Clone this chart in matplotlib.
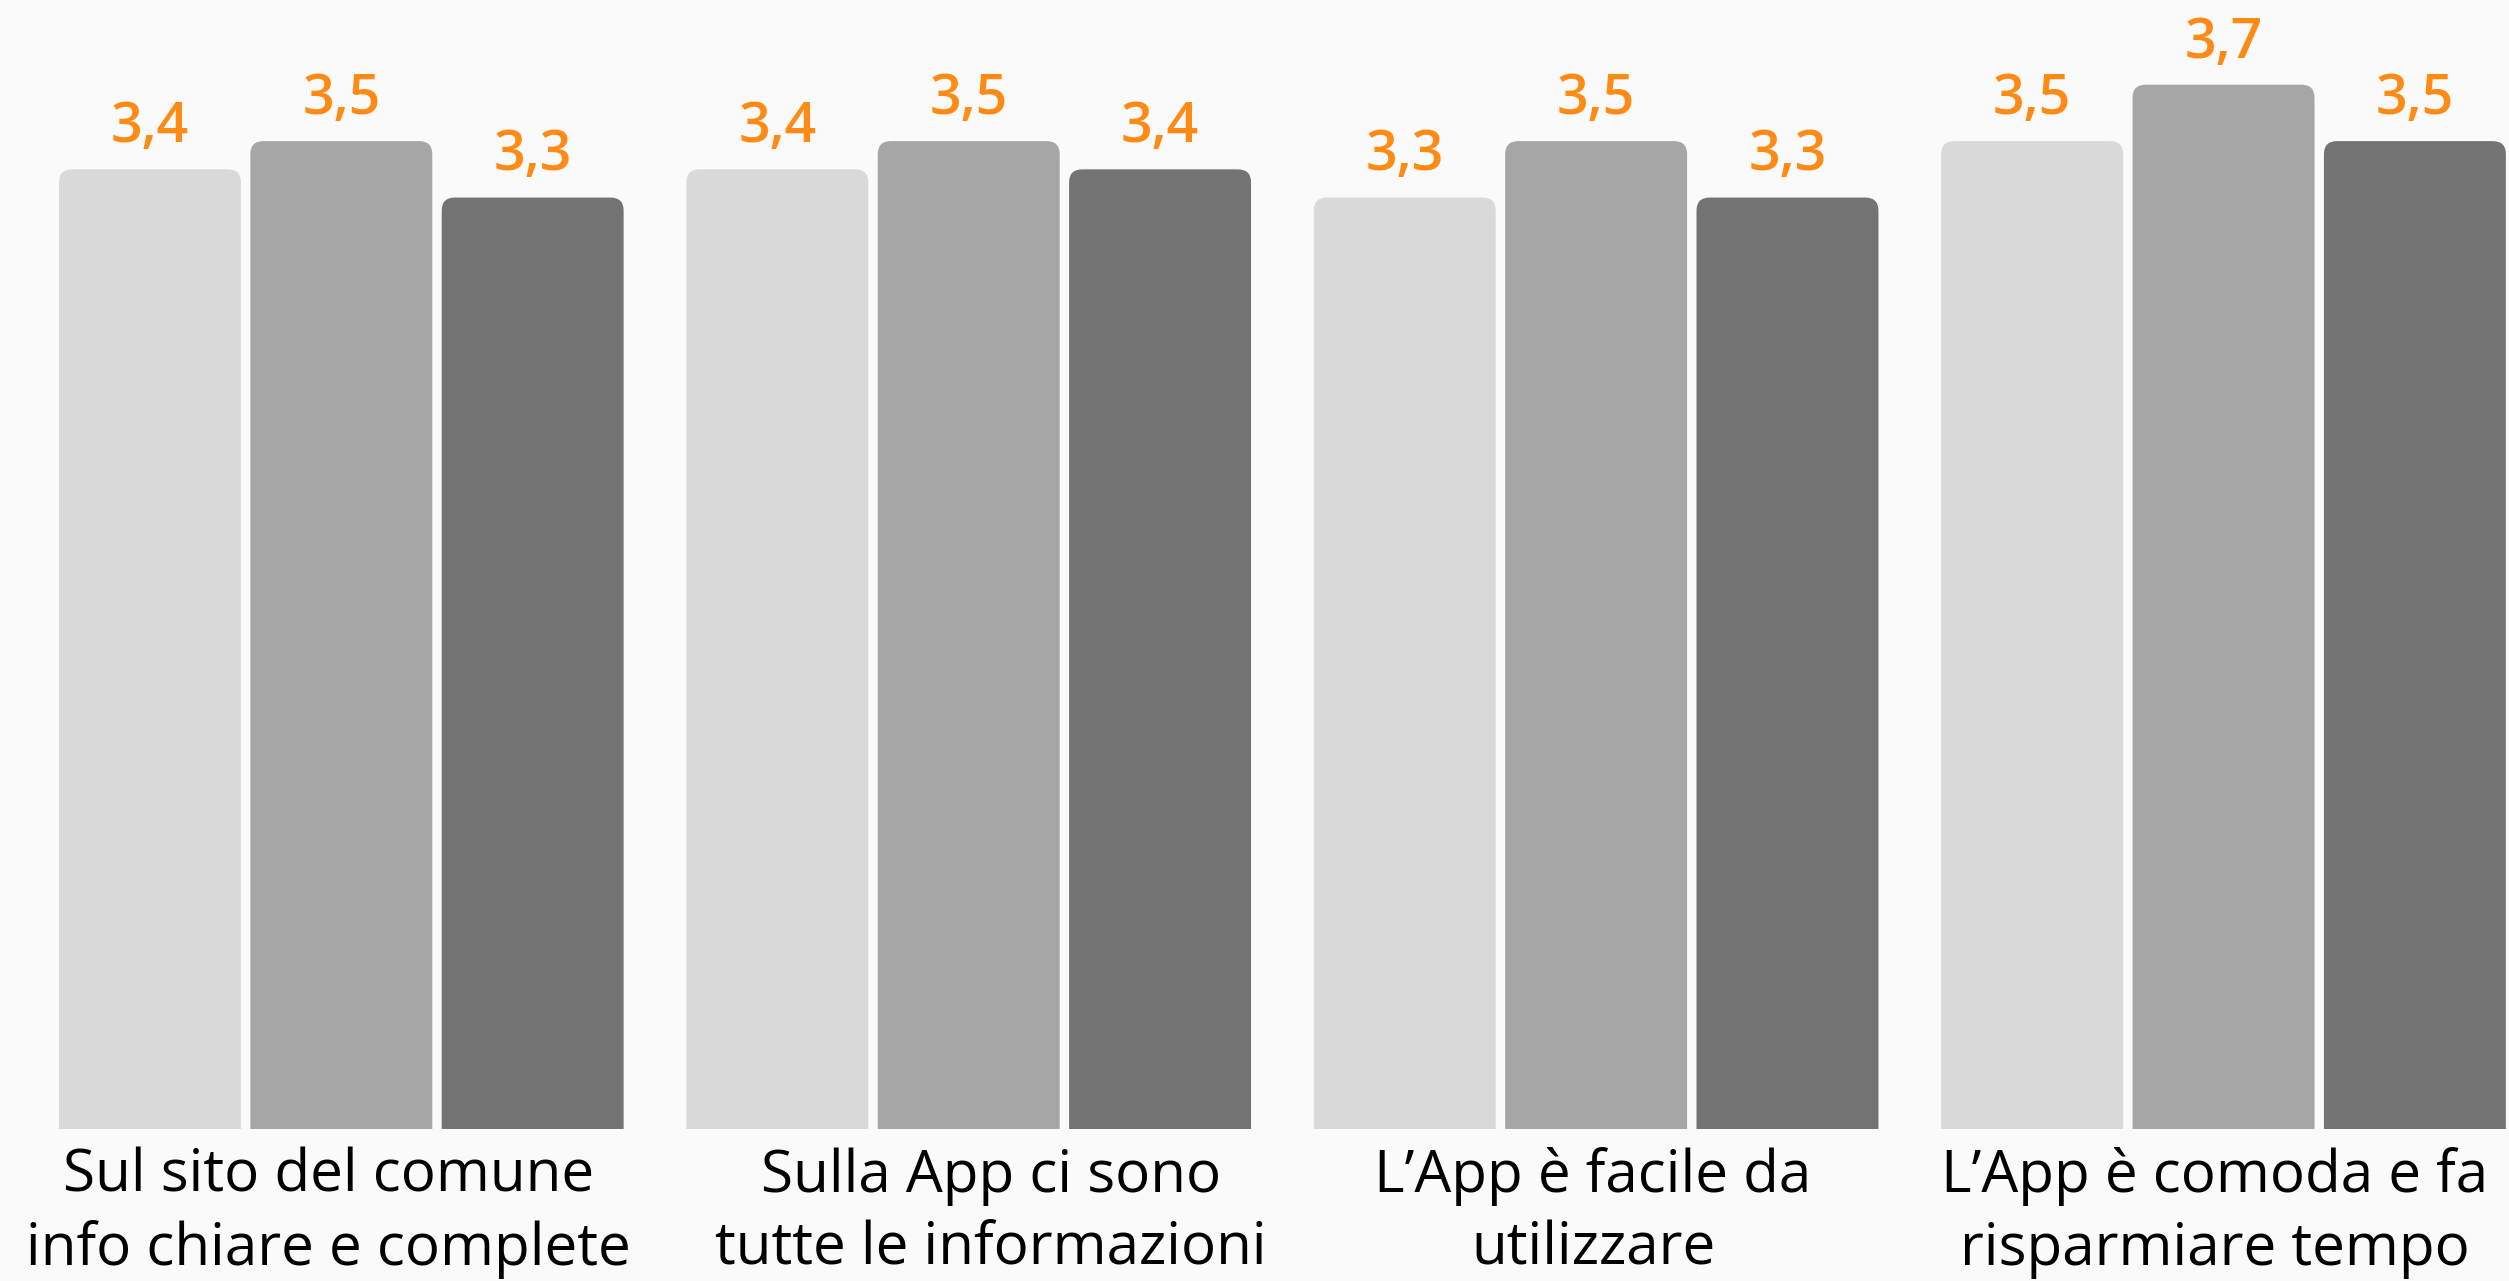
import numpy as np
import matplotlib
matplotlib.use("Agg")
import matplotlib.pyplot as plt
import matplotlib.transforms as mtransforms
from matplotlib.patches import FancyBboxPatch

# dati
categorie = [
    "Sul sito del comune\ninfo chiare e complete",
    "Sulla App ci sono\ntutte le informazioni",
    "L\u2019App è facile da\nutilizzare",
    "L\u2019App è comoda e fa\nrisparmiare tempo",
]
serie_1 = [3.4, 3.4, 3.3, 3.5]
serie_2 = [3.5, 3.5, 3.5, 3.7]
serie_3 = [3.3, 3.4, 3.3, 3.5]

COLORI = ["#D9D9D9", "#A6A6A6", "#737373"]
ARANCIO = "#FF8A14"
SFONDO = "#FAFAFA"
FONT = ["Open Sans", "DejaVu Sans"]

fig = plt.figure(figsize=(25.09, 12.81), dpi=100, facecolor=SFONDO)
ax = fig.add_axes([0, 0.1187, 1, 0.8813])
ax.set_facecolor(SFONDO)

x = np.arange(len(categorie))
passo = 0.305
larg = 0.290
r_x = 0.021
aspetto = 2.2

for i, (vals, col) in enumerate(zip([serie_1, serie_2, serie_3], COLORI)):
    barre = ax.bar(x + (i - 1) * passo, vals, width=larg, color=col)
    for b, v in zip(barre, vals):
        b.set_visible(False)
        # barra con angoli superiori arrotondati (la parte sotto lo zero viene tagliata)
        p = FancyBboxPatch((b.get_x(), -0.3), b.get_width(), b.get_height() + 0.3,
                           boxstyle=f"round,pad=0,rounding_size={r_x}",
                           mutation_aspect=aspetto, fc=col, ec="none", clip_on=True)
        ax.add_patch(p)
        ax.text(b.get_x() + b.get_width() / 2, v + 0.096, f"{v:.1f}".replace(".", ","),
                ha="center", va="baseline", fontsize=40, color=ARANCIO,
                family=FONT, fontweight="semibold")

ax.set_xlim(-0.544, 3.455)
ax.set_ylim(0, 4.0)
for s in ax.spines.values():
    s.set_visible(False)
ax.set_yticks([])
ax.set_xticks(x)
ax.set_xticklabels(categorie, fontsize=42, family=FONT, color="#000000",
                   linespacing=1.32)
ax.tick_params(axis="x", length=0, pad=13)

# piccoli spostamenti orizzontali delle etichette come nell'originale (pixel)
spost = [-13, 22, -3, -9]
for lab, dx in zip(ax.get_xticklabels(), spost):
    lab.set_transform(lab.get_transform()
                      + mtransforms.ScaledTranslation(dx / 100, 0, fig.dpi_scale_trans))

fig.savefig("out.png", dpi=100, facecolor=SFONDO)
